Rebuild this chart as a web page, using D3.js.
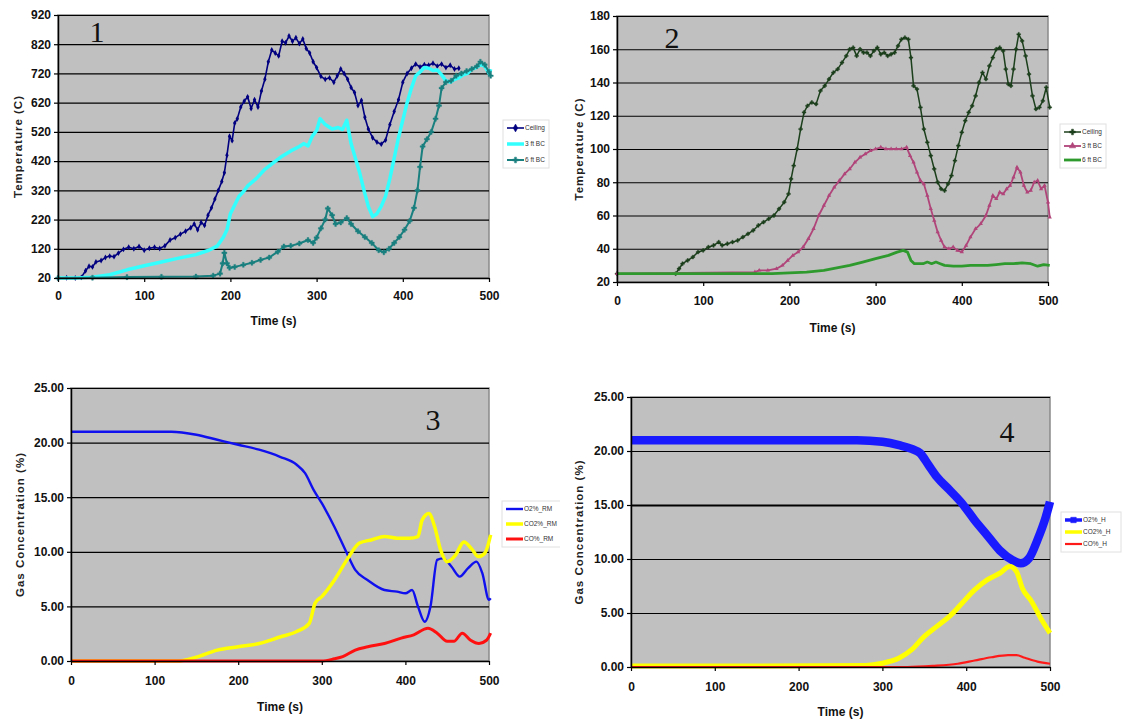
<!DOCTYPE html>
<meta charset="utf-8" />
<script src="https://d3js.org/d3.v7.min.js"></script>
<style>
  body { margin: 0; background: #fff; }
  text { font-family: "Liberation Sans", Arial, sans-serif; }
</style>
<div id="chart"></div>
<script>
  // ---- tick labels ----
  const timeTicks = [0, 100, 200, 300, 400, 500];
  const tempTicks1 = [20, 120, 220, 320, 420, 520, 620, 720, 820, 920];
  const tempTicks2 = [20, 40, 60, 80, 100, 120, 140, 160, 180];
  const gasTicks = [0, 5, 10, 15, 20, 25];

  // ---- panel 1: temperatures (time s, deg C) ----
  const p1Ceiling = [[0,20],[10,21],[20,20],[27,22],[32,45],[36,60],[40,58],[44,75],[50,80],[55,90],[60,95],[65,93],[70,105],[76,118],[82,125],[88,120],[94,128],[100,115],[106,122],[112,125],[118,121],[124,130],[130,150],[136,158],[142,170],[148,180],[154,192],[158,205],[162,185],[166,210],[170,200],[174,235],[178,260],[182,290],[186,320],[190,350],[193,380],[196,440],[199,505],[202,490],[205,550],[208,565],[212,605],[216,625],[220,640],[224,600],[228,630],[232,605],[236,660],[240,700],[244,760],[248,800],[252,790],[256,780],[260,830],[264,825],[268,848],[272,830],[276,842],[280,822],[284,838],[288,805],[292,790],[296,760],[300,740],[305,710],[310,700],[315,705],[320,690],[324,712],[328,735],[332,720],[336,700],[340,672],[344,655],[348,610],[352,628],[356,570],[360,530],[365,500],[370,485],[375,478],[380,492],[385,545],[390,590],[395,630],[400,690],[405,720],[410,738],[415,752],[420,742],[425,750],[430,748],[435,755],[440,745],[445,752],[450,740],[455,748],[460,735],[465,738]];
  const p1ThreeFt = [[0,20],[20,20],[40,23],[60,31],[80,48],[100,62],[120,75],[140,88],[160,100],[175,115],[185,130],[192,160],[196,185],[200,240],[205,270],[210,300],[215,315],[220,335],[230,360],[240,392],[250,415],[260,437],[270,455],[280,470],[285,480],[290,472],[295,505],[300,525],[304,565],[310,545],[318,530],[325,535],[330,528],[335,560],[340,480],[345,430],[350,380],[355,320],[360,265],[365,230],[370,240],[375,265],[380,300],[385,360],[390,430],[395,500],[400,560],[405,620],[410,670],[415,712],[420,725],[425,740],[430,738],[435,730],[440,732],[445,715],[450,695],[455,690],[460,700],[465,705],[470,715],[475,720],[480,735],[485,740],[490,750],[495,745],[500,720],[502,735]];
  const p1SixFt = [[0,20],[40,21],[80,23],[120,24],[160,25],[180,28],[188,35],[191,70],[193,106],[196,70],[199,55],[205,58],[215,65],[225,72],[235,82],[245,90],[255,110],[262,128],[270,130],[280,138],[290,150],[296,140],[300,158],[305,190],[310,220],[313,258],[318,235],[322,205],[328,210],[335,225],[340,205],[348,180],[356,160],[364,140],[372,115],[378,108],[384,120],[390,140],[396,160],[402,185],[408,215],[413,260],[417,320],[420,400],[423,470],[428,495],[433,520],[438,565],[442,610],[445,670],[450,690],[456,695],[462,712],[468,720],[474,728],[480,735],[486,745],[490,760],[495,750],[500,725],[502,712]];

  // ---- panel 2: temperatures (time s, deg C) ----
  const p2Ceiling = [[0,25],[68,25],[72,28],[76,31],[82,33],[88,35],[94,38],[100,39],[106,41],[112,42],[118,44],[122,42],[128,43],[134,44],[140,45],[146,47],[152,49],[158,51],[164,54],[170,56],[176,58],[182,60],[188,64],[194,68],[199,73],[202,82],[205,90],[209,100],[213,112],[217,122],[221,126],[226,128],[231,127],[236,135],[241,138],[246,142],[251,146],[256,148],[261,152],[266,156],[270,160],[274,161],[278,156],[282,160],[286,158],[290,158],[294,156],[298,159],[302,161],[306,157],[310,158],[314,156],[318,157],[322,158],[326,162],[330,166],[334,167],[338,166],[341,155],[344,138],[348,136],[352,125],[356,112],[360,104],[364,96],[368,88],[372,80],[376,76],[380,75],[384,79],[388,84],[392,93],[396,102],[400,110],[404,117],[408,122],[412,126],[416,132],[420,140],[424,146],[428,142],[432,150],[436,155],[440,160],[444,161],[448,159],[451,148],[454,139],[457,138],[460,148],[463,160],[466,169],[470,165],[474,156],[478,145],[482,132],[486,124],[490,125],[494,129],[498,137],[502,125]];
  const p2ThreeFt = [[0,25],[160,26],[165,27],[175,27],[185,28],[192,30],[198,33],[204,36],[210,38],[216,41],[222,46],[228,52],[234,60],[240,66],[246,72],[252,77],[258,81],[264,85],[270,88],[276,92],[282,95],[288,97],[294,99],[300,100],[306,101],[312,100],[318,100],[324,100],[330,100],[336,101],[340,96],[344,92],[348,86],[352,81],[356,79],[360,72],[364,64],[368,57],[372,50],[376,45],[380,41],[385,40],[390,41],[395,39],[400,38],[405,42],[410,47],[416,52],[422,55],[428,60],[432,66],[436,72],[440,70],[444,74],[448,73],[452,76],[456,78],[460,83],[464,89],[468,86],[472,78],[476,74],[480,75],[484,80],[488,81],[492,76],[496,78],[500,68],[502,59]];
  const p2SixFt = [[0,25],[100,25],[180,25],[200,25.5],[220,26],[240,27],[255,28.5],[270,30],[285,32],[300,34],[315,36],[325,38],[332,39],[337,38],[341,33],[345,31],[350,31],[355,31],[360,32],[365,31],[370,32],[375,31],[380,30],[390,29.5],[400,29.5],[410,30],[420,30],[430,30],[440,30.5],[450,31],[460,31],[470,31.5],[480,31],[488,29.5],[495,30.5],[502,30]];

  // ---- panel 3: gas concentration RM (time s, %) ----
  const p3O2 = [[0,21],[60,21],[120,21],[150,20.72],[175,20.26],[200,19.8],[225,19.35],[250,18.7],[270,17.97],[280,17.2],[290,15.7],[300,14.45],[315,12.3],[330,9.87],[340,8.34],[355,7.4],[375,6.5],[390,6.35],[400,6.2],[408,6.5],[415,5.0],[423,3.6],[430,5.0],[438,9.26],[445,9.4],[455,8.65],[465,7.73],[475,8.5],[485,9.1],[492,8.04],[500,5.6],[502,5.75]];
  const p3CO2 = [[0,0],[130,0],[140,0.15],[150,0.35],[175,1.0],[200,1.3],[225,1.6],[250,2.2],[270,2.7],[285,3.45],[292,5.3],[300,5.9],[315,7.4],[330,9.26],[345,10.8],[360,11.1],[375,11.4],[390,11.25],[405,11.25],[415,11.4],[420,12.9],[428,13.5],[435,12.3],[442,10.2],[450,9.1],[460,9.7],[470,10.9],[480,10.2],[487,9.56],[495,9.87],[502,11.55]];
  const p3CO = [[0,0],[150,0],[300,0],[315,0.2],[325,0.4],[340,1.0],[355,1.3],[375,1.6],[395,2.1],[410,2.4],[427,3.0],[438,2.55],[450,1.8],[458,1.8],[468,2.55],[478,1.9],[488,1.6],[497,1.9],[502,2.55]];

  // ---- panel 4: gas concentration H (time s, %) ----
  const p4O2 = [[0,21],[100,21],[200,21],[270,21],[300,20.85],[320,20.54],[335,20.2],[345,19.8],[355,18.7],[365,17.6],[380,16.4],[395,15.15],[410,13.6],[425,12.2],[440,10.8],[455,9.9],[465,9.6],[475,10.07],[485,11.76],[495,13.9],[500,15.3]];
  const p4CO2 = [[0,0.1],[150,0.1],[280,0.15],[300,0.35],[320,0.83],[335,1.6],[350,2.83],[365,3.76],[380,4.68],[395,5.9],[410,7.14],[425,8.07],[440,8.68],[452,9.3],[460,8.84],[467,7.3],[478,6.07],[490,4.37],[500,3.14]];
  const p4CO = [[0,0],[200,0],[330,0],[360,0.1],[390,0.3],[410,0.6],[430,0.9],[450,1.1],[460,1.1],[470,0.85],[485,0.5],[500,0.3]];

  const svg = d3.select("#chart").append("svg")
    .attr("width", 1127).attr("height", 724);

  // the third legend is cut off at the panel edge in the source
  svg.append("clipPath").attr("id", "cut3")
    .append("rect").attr("x", 0).attr("y", 380).attr("width", 560).attr("height", 344);

  const fmt0 = d3.format("d"), fmt2 = d3.format(".2f");

  const panels = [
    { x0: 58, x1: 489, y0: 15, y1: 278, domain: [20, 920], ticks: tempTicks1, fmt: fmt0,
      ytitle: "Temperature (C)", ytx: 18, num: "1", nx: 97, ny: 42,
      tlY: 302, ttY: 325, lg: { x: 507, y: 128, dy: 16, w: 46 },
      series: [
        { name: "Ceiling", data: p1Ceiling, color: "#000080", w: 1.6, mk: "diamond", ms: 10 },
        { name: "3 ft BC", data: p1ThreeFt, color: "#33ffff", w: 3.5 },
        { name: "6 ft BC", data: p1SixFt, color: "#1a7f7f", w: 2, mk: "cross", ms: 14 }
      ] },
    { x0: 617, x1: 1048, y0: 16, y1: 282, domain: [20, 180], ticks: tempTicks2, fmt: fmt0,
      ytitle: "Temperature (C)", ytx: 579, num: "2", nx: 672, ny: 48,
      tlY: 307, ttY: 332, lg: { x: 1064, y: 132, dy: 14, w: 46 },
      series: [
        { name: "Ceiling", data: p2Ceiling, color: "#1c3f1c", w: 1.5, mk: "cross", ms: 8 },
        { name: "3 ft BC", data: p2ThreeFt, color: "#b0457a", w: 1.8, mk: "triangle", ms: 8 },
        { name: "6 ft BC", data: p2SixFt, color: "#2e9a2e", w: 2.8 }
      ] },
    { x0: 71, x1: 489, y0: 388, y1: 661, domain: [0, 25], ticks: gasTicks, fmt: fmt2,
      ytitle: "Gas Concentration (%)", ytx: 20, num: "3", nx: 433, ny: 430, clip: "cut3",
      tlY: 687, ttY: 711, lg: { x: 506, y: 509, dy: 15, w: 60 },
      series: [
        { name: "O2%_RM", data: p3O2, color: "#1010ee", w: 2.4 },
        { name: "CO2%_RM", data: p3CO2, color: "#ffff00", w: 3.5 },
        { name: "CO%_RM", data: p3CO, color: "#ff1010", w: 3 }
      ] },
    { x0: 631, x1: 1050, y0: 397, y1: 667, domain: [0, 25], ticks: gasTicks, fmt: fmt2,
      ytitle: "Gas Concentration (%)", ytx: 579, num: "4", nx: 1007, ny: 442, heavy: 15,
      tlY: 693, ttY: 716, lg: { x: 1065, y: 520, dy: 12, w: 60 },
      series: [
        { name: "O2%_H", data: p4O2, color: "#1a1aff", w: 8.5 },
        { name: "CO2%_H", data: p4CO2, color: "#ffff00", w: 5 },
        { name: "CO%_H", data: p4CO, color: "#ff1a1a", w: 2.2 }
      ] }
  ];

  const symbols = { diamond: d3.symbolDiamond, cross: d3.symbolCross, triangle: d3.symbolTriangle };

  panels.forEach(function (p, i) {
    const g = svg.append("g");
    const x = d3.scaleLinear().domain([0, 500]).range([p.x0, p.x1]);
    const y = d3.scaleLinear().domain(p.domain).range([p.y1, p.y0]);

    // plot area
    g.append("rect")
      .attr("x", p.x0).attr("y", p.y0)
      .attr("width", p.x1 - p.x0).attr("height", p.y1 - p.y0)
      .attr("fill", "#c0c0c0").attr("stroke", "#8a8a8a").attr("stroke-width", 1.5);

    // gridlines
    g.append("g")
      .attr("transform", `translate(${p.x0},0)`)
      .call(d3.axisLeft(y).tickValues(p.ticks).tickSize(-(p.x1 - p.x0)).tickFormat(""))
      .call(a => a.select(".domain").remove())
      .selectAll("line")
      .attr("stroke", "#000")
      .attr("stroke-width", d => d === p.heavy ? 2.2 : 1.2);

    // series
    const line = d3.line()
      .x(d => x(d[0])).y(d => y(d[1]))
      .curve(i >= 2 ? d3.curveMonotoneX : d3.curveLinear);

    p.series.forEach(function (s) {
      g.append("path")
        .datum(s.data)
        .attr("fill", "none")
        .attr("stroke", s.color)
        .attr("stroke-width", s.w)
        .attr("stroke-linejoin", "round")
        .attr("d", line);
      if (s.mk) {
        g.selectAll(null).data(s.data).enter().append("path")
          .attr("transform", d => `translate(${x(d[0])},${y(d[1])})`)
          .attr("d", d3.symbol().type(symbols[s.mk]).size(s.ms))
          .attr("fill", s.color)
          .attr("stroke", s.mk === "cross" ? s.color : "none")
          .attr("stroke-width", 0.4);
      }
    });

    // axes
    const yAxis = g.append("g")
      .attr("transform", `translate(${p.x0},0)`)
      .call(d3.axisLeft(y).tickValues(p.ticks).tickSize(4).tickSizeOuter(0).tickFormat(p.fmt));
    const xAxis = g.append("g")
      .attr("transform", `translate(0,${p.y1})`)
      .call(d3.axisBottom(x).tickValues(timeTicks).tickSize(4).tickSizeOuter(0));
    [yAxis, xAxis].forEach(a => {
      a.select(".domain").attr("stroke", "#000").attr("stroke-width", 1.5);
      a.selectAll(".tick line").attr("stroke", "#000").attr("stroke-width", 1.2);
      a.selectAll("text")
        .attr("fill", "#111")
        .style("font-size", "12px")
        .style("font-weight", "bold");
    });
    xAxis.selectAll("text").attr("y", p.tlY - p.y1 - 6).attr("dy", "0.35em");

    // axis titles
    g.append("text")
      .attr("x", (p.x0 + p.x1) / 2).attr("y", p.ttY)
      .attr("text-anchor", "middle")
      .style("font-size", "12px").style("font-weight", "bold")
      .attr("fill", "#111")
      .text("Time (s)");
    g.append("text")
      .attr("transform", `translate(${p.ytx},${(p.y0 + p.y1) / 2}) rotate(-90)`)
      .attr("text-anchor", "middle").attr("dy", "0.35em")
      .style("font-size", "11.5px").style("font-weight", "bold")
      .style("letter-spacing", "1px")
      .attr("fill", "#222")
      .text(p.ytitle);

    // panel number
    g.append("text")
      .attr("x", p.nx).attr("y", p.ny)
      .attr("text-anchor", "middle")
      .style("font-family", "'Liberation Serif', 'Times New Roman', serif")
      .style("font-size", "30px")
      .attr("fill", "#111")
      .text(p.num);

    // legend
    const lg = g.append("g")
      .attr("clip-path", p.clip ? `url(#${p.clip})` : null)
      .append("g")
      .attr("transform", `translate(${p.lg.x},${p.lg.y})`);
    lg.append("rect")
      .attr("x", -4).attr("y", -8)
      .attr("width", p.lg.w).attr("height", p.lg.dy * 2 + 16)
      .attr("fill", "#fff").attr("stroke", "#e0e0e0");
    p.series.forEach(function (s, k) {
      const row = lg.append("g").attr("transform", `translate(0,${k * p.lg.dy})`);
      row.append("line")
        .attr("x1", 0).attr("x2", 17)
        .attr("stroke", s.color)
        .attr("stroke-width", Math.min(s.w, 3.5));
      if (s.mk || s.w > 6) {
        row.append("path")
          .attr("transform", "translate(8.5,0)")
          .attr("d", d3.symbol().type(s.w > 6 ? d3.symbolSquare : symbols[s.mk]).size(s.w > 6 ? 30 : 18))
          .attr("fill", s.color).attr("stroke", s.color).attr("stroke-width", 0.5);
      }
      row.append("text")
        .attr("x", 18).attr("dy", "0.35em")
        .style("font-size", "6.5px")
        .attr("fill", "#333")
        .text(s.name);
    });
  });
</script>
